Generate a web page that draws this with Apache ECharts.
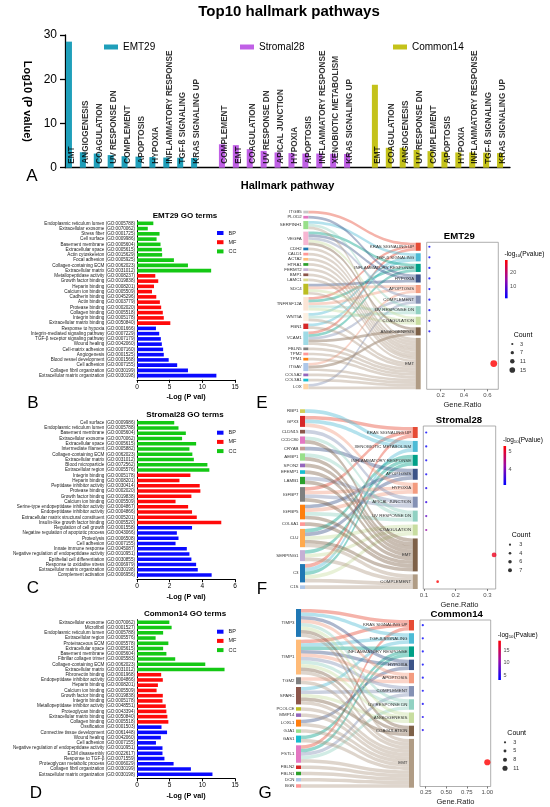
<!DOCTYPE html>
<html><head><meta charset="utf-8">
<script src="https://cdn.jsdelivr.net/npm/echarts@6/dist/echarts.min.js"></script>
<style>html,body{margin:0;padding:0;background:#fff}#c{width:550px;height:807px}</style>
</head><body><div id="c"></div>
<script>
const FONT = '"Liberation Sans", Arial, Helvetica, sans-serif';

// ---------- Panel A data ----------
const hallmarkEMT29 = ['EMT','ANGIOGENESIS','COAGULATION','UV RESPONSE DN','COMPLEMENT','APOPTOSIS','HYPOXIA','INFLAMMATORY RESPONSE','TGF-ß SIGNALING','KRAS SIGNALING UP'];
const hallmarkEMT29Val = [28.5,3.5,3.2,2.85,2.6,2.5,2.4,2.3,2.25,2.2];
const hallmarkStromal28 = ['COMPLEMENT','EMT','COAGULATION','UV RESPONSE DN','APICAL JUNCTION','HYPOXIA','APOPTOSIS','INFLAMMATORY RESPONSE','XENOBIOTIC METABOLISM','KRAS SIGNALING UP'];
const hallmarkStromal28Val = [5.3,5.1,4.2,3.8,3.45,3.3,3.2,3.2,3.15,3.1];
const hallmarkCommon14 = ['EMT','COAGULATION','ANGIOGENESIS','UV RESPONSE DN','COMPLEMENT','APOPTOSIS','HYPOXIA','INFLAMMATORY RESPONSE','TGF-ß SIGNALING','KRAS SIGNALING UP'];
const hallmarkCommon14Val = [18.75,4.5,4.5,4.0,3.75,3.6,3.45,3.45,3.4,3.3];
const setNames = ['EMT29','Stromal28','Common14'];

// ---------- GO data ----------
const goEMT29Terms = ['Endoplasmic reticulum lumen (GO:0005788)','Extracellular exosome (GO:0070062)','Stress fiber (GO:0001725)','Cell surface (GO:0009986)','Basement membrane (GO:0005604)','Extracellular space (GO:0005615)','Actin cytoskeleton (GO:0015629)','Focal adhesion (GO:0005925)','Collagen-containing ECM (GO:0062023)','Extracellular matrix (GO:0031012)',
 'Metallopeptidase activity (GO:0008237)','Growth factor binding (GO:0019838)','Heparin binding (GO:0008201)','Calcium ion binding (GO:0005509)','Cadherin binding (GO:0045296)','Actin binding (GO:0003779)','Protease binding (GO:0002020)','Collagen binding (GO:0005518)','Integrin binding (GO:0005178)','Extracellular matrix binding (GO:0050840)',
 'Response to hypoxia (GO:0001666)','Integrin-mediated signaling pathway (GO:0007229)','TGF-β receptor signaling pathway (GO:0007179)','Wound healing (GO:0042060)','Cell-matrix adhesion (GO:0007160)','Angiogenesis (GO:0001525)','Blood vessel development (GO:0001568)','Cell adhesion (GO:0007155)','Collagen fibril organization (GO:0030199)','Extracellular matrix organization (GO:0030198)'];
const goEMT29Vals = [2.5,1.65,3.45,3.0,3.6,3.8,3.85,5.65,7.8,11.35, 2.8,3.25,2.6,2.3,2.95,3.5,3.7,3.95,4.1,5.1, 2.9,3.4,3.65,3.8,4.0,4.1,4.85,6.15,7.8,12.15];
const goStromal28Terms = ['Cell surface (GO:0009986)','Endoplasmic reticulum lumen (GO:0005788)','Basement membrane (GO:0005604)','Extracellular exosome (GO:0070062)','Extracellular space (GO:0005615)','Intermediate filament (GO:0005882)','Collagen-containing ECM (GO:0062023)','Extracellular matrix (GO:0031012)','Blood microparticle (GO:0072562)','Extracellular region (GO:0005576)',
 'Integrin binding (GO:0005178)','Heparin binding (GO:0008201)','Peptidase inhibitor activity (GO:0030414)','Protease binding (GO:0002020)','Growth factor binding (GO:0019838)','Calcium ion binding (GO:0005509)','Serine-type endopeptidase inhibitor activity (GO:0004867)','Endopeptidase inhibitor activity (GO:0004866)','Extracellular matrix structural constituent (GO:0005201)','Insulin-like growth factor binding (GO:0005520)',
 'Regulation of cell growth (GO:0001558)','Negative regulation of apoptotic process (GO:0043066)','Proteolysis (GO:0006508)','Cell adhesion (GO:0007155)','Innate immune response (GO:0045087)','Negative regulation of endopeptidase activity (GO:0010951)','Epithelial cell differentiation (GO:0030855)','Response to oxidative stress (GO:0006979)','Extracellular matrix organization (GO:0030198)','Complement activation (GO:0006956)'];
const goStromal28Vals = [2.28,2.54,2.99,2.76,3.62,3.21,3.39,3.48,4.31,4.43, 3.27,2.6,3.84,3.88,3.33,2.36,3.13,3.37,3.66,5.16, 3.37,2.44,2.54,2.36,3.05,3.21,3.33,3.62,3.72,4.57];
const goCommon14Terms = ['Extracellular exosome (GO:0070062)','Microfibril (GO:0001527)','Endoplasmic reticulum lumen (GO:0005788)','Extracellular region (GO:0005576)','Proteinaceous ECM (GO:0005578)','Extracellular space (GO:0005615)','Basement membrane (GO:0005604)','Fibrillar collagen trimer (GO:0005583)','Collagen-containing ECM (GO:0062023)','Extracellular matrix (GO:0031012)',
 'Fibronectin binding (GO:0001968)','Endopeptidase inhibitor activity (GO:0004866)','Heparin binding (GO:0008201)','Calcium ion binding (GO:0005509)','Growth factor binding (GO:0019838)','Integrin binding (GO:0005178)','Metallopeptidase inhibitor activity (GO:0048551)','Proteoglycan binding (GO:0043394)','Extracellular matrix binding (GO:0050840)','Collagen binding (GO:0005518)',
 'Ossification (GO:0001503)','Connective tissue development (GO:0061448)','Wound healing (GO:0042060)','Cell adhesion (GO:0007155)','Negative regulation of endopeptidase activity (GO:0010951)','ECM disassembly (GO:0022617)','Response to TGF-β (GO:0071559)','Proteoglycan metabolic process (GO:0006029)','Collagen fibril organization (GO:0030199)','Extracellular matrix organization (GO:0030198)'];
const goCommon14Vals = [4.95,5.3,4.0,2.85,4.8,4.0,4.5,5.85,10.45,13.4, 3.7,3.95,3.2,3.0,3.95,3.9,4.4,4.5,4.65,4.8, 3.75,4.6,3.65,2.9,3.9,3.9,4.2,5.6,8.25,11.55];
const goClass = ['CC','CC','CC','CC','CC','CC','CC','CC','CC','CC','MF','MF','MF','MF','MF','MF','MF','MF','MF','MF','BP','BP','BP','BP','BP','BP','BP','BP','BP','BP'];
const goClasses = ['BP','MF','CC'];

// ---------- Sankey / dot data ----------
const emtGenes = ['ITGB5','PLOD2','SERPINH1','VEGFA','CDH2','CALD1','ACTA2','HTRA1','FERMT2','BMP1','LAMC1','SDC4','TNFRSF12A','WNT5A','FBN1','VCAM1','FBLN5','TPM2','TPM1','ITGAV','COL5A2','COL3A1','LOX'];
const emtPathways = ['KRAS SIGNALING UP','TGF-ß SIGNALING','INFLAMMATORY RESPONSE','HYPOXIA','APOPTOSIS','COMPLEMENT','UV RESPONSE DN','COAGULATION','ANGIOGENESIS','EMT'];
const emtMembers = [
 ['ITGB5','TNFRSF12A','VCAM1'],['SERPINH1','FBN1','WNT5A'],['VEGFA','TNFRSF12A','VCAM1'],['PLOD2','VEGFA','SDC4'],['TNFRSF12A','SDC4','ITGAV'],
 ['VEGFA','VCAM1','LOX'],['TNFRSF12A','WNT5A','SERPINH1'],['VEGFA','TNFRSF12A','SDC4'],['VEGFA','VCAM1','ITGAV'],
 ['SERPINH1','CDH2','CALD1','ACTA2','HTRA1','FERMT2','BMP1','LAMC1','SDC4','WNT5A','FBN1','VCAM1','FBLN5','TPM2','TPM1','ITGAV','COL5A2','COL3A1','LOX']];
const emtRatio = [0.103,0.103,0.103,0.103,0.103,0.103,0.103,0.103,0.103,0.655];
const emtCount = [3,3,3,3,3,3,3,3,3,19];
const emtLogP = [2.2,2.25,2.3,2.4,2.5,2.6,2.85,3.2,3.5,28.5];
const emtCountBreaks = [3,7,11,15];

const strGenes = ['RBP1','GPX3','CLDN15','CCDC80','CRYAB','AEBP1','SPON2','EFEMP1','LAMB1','IGFBP7','IGFBP5','COL6A1','CLU','SERPING1','C3','C1S'];
const strPathways = ['KRAS SIGNALING UP','XENOBIOTIC METABOLISM','INFLAMMATORY RESPONSE','APOPTOSIS','HYPOXIA','APICAL JUNCTION','UV RESPONSE DN','COAGULATION','EMT','COMPLEMENT'];
const strMembers = [
 ['C3','GPX3','IGFBP7'],['C3','RBP1','GPX3'],['C3','SERPING1','CLU'],['CLU','CRYAB','IGFBP5'],['GPX3','IGFBP7','IGFBP5'],
 ['CLDN15','LAMB1','IGFBP7'],['CCDC80','AEBP1','IGFBP5'],['C3','SERPING1','CLU'],
 ['CLU','CCDC80','AEBP1','SPON2','EFEMP1','LAMB1','IGFBP7','IGFBP5','COL6A1'],['C1S','C3','SERPING1','CLU']];
const strRatio = [0.107,0.107,0.107,0.107,0.107,0.107,0.107,0.107,0.321,0.143];
const strCount = [3,3,3,3,3,3,3,3,9,4];
const strLogP = [3.1,3.15,3.2,3.2,3.3,3.45,3.8,4.2,5.1,5.3];
const strCountBreaks = [3,4,6,7];

const comGenes = ['TIMP3','TIMP1','TGM2','SPARC','PCOLCE','MMP14','LOXL1','GJA1','GAS1','FSTL1','FBLN2','FBLN1','DCN','BGN'];
const comPathways = ['KRAS SIGNALING UP','TGF-ß SIGNALING','INFLAMMATORY RESPONSE','HYPOXIA','APOPTOSIS','COMPLEMENT','UV RESPONSE DN','ANGIOGENESIS','COAGULATION','EMT'];
const comMembers = [
 ['TIMP1','TIMP3','FSTL1'],['TIMP1','TIMP3','SPARC'],['TIMP1','FSTL1','GAS1'],['TIMP1','TIMP3','LOXL1'],['TIMP1','TIMP3','TGM2'],
 ['TIMP1','SPARC','FSTL1'],['TIMP1','TIMP3','FSTL1'],['TIMP1','TIMP3','SPARC'],['TIMP1','TIMP3','SPARC'],
 ['TIMP3','TIMP1','TGM2','SPARC','PCOLCE','MMP14','LOXL1','GJA1','GAS1','FSTL1','FBLN2','FBLN1','DCN','BGN']];
const comRatio = [0.214,0.214,0.214,0.214,0.214,0.214,0.214,0.214,0.214,1.0];
const comCount = [3,3,3,3,3,3,3,3,3,14];
const comLogP = [3.3,3.4,3.45,3.45,3.6,3.75,4.0,4.5,4.5,18.75];
const comCountBreaks = [3,5,8,11];

// ---------- styles ----------
const setColors = ['#1f9fba','#c060e6','#c4c21a'];
const goColors = {BP:'#0a0aff', MF:'#ff0a0a', CC:'#14c814'};
const pathPalette = ['#E64B35','#4DBBD5','#00A087','#3C5488','#F39B7F','#8491B4','#91D1C2','#C8DDA0','#7E6148','#B09C85'];
const emtGeneColors = ['#c7c7c7','#e377c2','#98df8a','#f7b6d2','#1f77b4','#ff9896','#ffbb78','#2ca02c','#c5b0d5','#8c564b','#dbdb8d','#bcbd22','#fbe5d6','#fdf0e2','#d62728','#9edae5','#7f7f7f','#ff9896','#ff7f0e','#aec7e8','#9467bd','#17becf','#ffd6a8'];
const strGeneColors = ['#cfcf5a','#d62728','#8c564b','#e377c2','#c49c94','#98df8a','#9467bd','#17becf','#2ca02c','#7f7f7f','#ff7f0e','#ff9896','#ffa94d','#c5b0d5','#1f77b4','#aec7e8'];
const comGeneColors = ['#1f77b4','#ffbb78','#7f7f7f','#8c564b','#bcbd22','#9467bd','#ff7f0e','#98df8a','#17becf','#e377c2','#d62728','#2ca02c','#aec7e8','#ff9896'];
const pColors = ['#0000ff','#9a0aa8','#ff0000'];

const grids = [], xAxes = [], yAxes = [], series = [], visualMaps = [], legends = [], gfx = [];

function txt(x, y, text, size, bold, align, extra) {
  gfx.push({type:'text', x, y, z: 50, silent: true, style: Object.assign({text, fontSize:size, fontWeight: bold?'bold':'normal', fontFamily: FONT, fill:'#000', align: align||'center', verticalAlign:'middle'}, extra||{})});
}

// ---------- Panel A ----------
const aCats = [], aBar = [[],[],[]], aLab = [];
[[hallmarkEMT29,hallmarkEMT29Val],[hallmarkStromal28,hallmarkStromal28Val],[hallmarkCommon14,hallmarkCommon14Val]].forEach(([names, vals], g) => {
  if (g > 0) aCats.push('');
  names.forEach((n, i) => { const idx = aCats.length; aCats.push(n); aBar[g].push([idx, vals[i]]); aLab.push({value:[idx, 0], name:n}); });
});
grids.push({left:65, top:35, width:445, height:132.7});
xAxes.push({gridIndex:0, type:'category', data:aCats, axisLine:{lineStyle:{color:'#000', width:1.3}}, axisTick:{alignWithLabel:true, interval:0, length:5, lineStyle:{color:'#000', width:1.3}}, axisLabel:{show:false}, name:'Hallmark pathway', nameLocation:'middle', nameGap:13, nameTextStyle:{fontSize:11, fontWeight:'bold', color:'#000', fontFamily:FONT}});
yAxes.push({gridIndex:0, type:'value', min:0, max:30, interval:10, axisLine:{show:true, lineStyle:{color:'#000', width:1.3}}, axisTick:{show:true, length:5, lineStyle:{color:'#000', width:1.3}}, axisLabel:{fontSize:12, color:'#000', margin:8}, splitLine:{show:false}, name:'Log10 (P value)', nameLocation:'middle', nameRotate:-90, nameGap:23, nameTextStyle:{fontSize:11, fontWeight:'bold', color:'#000', fontFamily:FONT}});
setNames.forEach((s, g) => series.push({type:'bar', name:s, xAxisIndex:0, yAxisIndex:0, stack:'A', barWidth:6, barGap:'0%', data:aBar[g], itemStyle:{color:setColors[g]}}));
series.push({type:'bar', name:'_pad', xAxisIndex:0, yAxisIndex:0, stack:'Apad', barWidth:6, barGap:'0%', data:[]});
series.push({type:'scatter', name:'_alab', xAxisIndex:0, yAxisIndex:0, symbolSize:0.01, data:aLab, silent:true,
  label:{show:true, position:'top', distance:4, rotate:90, align:'left', verticalAlign:'middle', formatter:p=>p.name, fontSize:8.2, fontWeight:'bold', fontFamily:FONT, color:'#000'}});
[[99,'EMT29'],[235,'Stromal28'],[388,'Common14']].forEach(([x, n]) => legends.push({left:x, top:37, data:[n], itemWidth:14, itemHeight:5, icon:'rect', selectedMode:false, textStyle:{fontSize:10, color:'#000', fontFamily:FONT}}));
txt(289, 12, 'Top10 hallmark pathways', 15, true);
txt(32, 176, 'A', 17, false);

// ---------- GO panels ----------
function goPanel(terms, vals, xmax, xint, lay, title, letter) {
  const gi = grids.length;
  grids.push({left:137, width:98, top:lay.top, height:lay.h});
  xAxes.push({gridIndex:gi, type:'value', min:0, max:xmax, interval:xint, offset:1.5, axisLine:{show:true, lineStyle:{color:'#000', width:1}}, axisTick:{show:true, length:3, lineStyle:{color:'#000'}}, axisLabel:{fontSize:6.5, color:'#000', margin:3.5}, splitLine:{show:false}, name:'-Log (P val)', nameLocation:'middle', nameGap:14, nameTextStyle:{fontSize:7.2, fontWeight:'bold', color:'#000', fontFamily:FONT}});
  yAxes.push({gridIndex:gi, type:'category', inverse:true, data:terms, axisLine:{lineStyle:{color:'#000', width:1}}, axisTick:{show:false}, axisLabel:{interval:0, fontSize:4.6, color:'#222', margin:2}});
  goClasses.forEach(c => series.push({type:'bar', name:c, xAxisIndex:gi, yAxisIndex:gi, stack:'go'+gi, barWidth:3.6, data: vals.map((v, i) => goClass[i] === c ? v : '-'), itemStyle:{color:goColors[c]}}));
  legends.push({left:212, top:lay.legTop, orient:'vertical', data:goClasses, itemWidth:6.5, itemHeight:4, itemGap:3.2, icon:'rect', selectedMode:false, textStyle:{fontSize:5.5, color:'#222', fontFamily:FONT}});
  txt(185, lay.titleY, title, 8, true);
  txt(lay.letterX, lay.letterY, letter, 17, false);
}
goPanel(goEMT29Terms, goEMT29Vals, 15, 5, {top:220.7, h:157.6, legTop:225, titleY:215.5, letterX:33, letterY:403}, 'EMT29 GO terms', 'B');
goPanel(goStromal28Terms, goStromal28Vals, 6, 2, {top:420.1, h:157.6, legTop:424.7, titleY:415, letterX:33, letterY:588}, 'Stromal28 GO terms', 'C');
goPanel(goCommon14Terms, goCommon14Vals, 15, 5, {top:619.7, h:157.2, legTop:623.7, titleY:614, letterX:36, letterY:793}, 'Common14 GO terms', 'D');

// ---------- Sankey + dot panels ----------
function sizeFn(cmin, cmax, dmin, dmax) { return c => dmin + (dmax - dmin) * (c - cmin) / (cmax - cmin); }

function enrichPanel(genes, geneColors, pathways, members, ratio, count, logp, breaks, L) {
  const links = [];
  pathways.forEach((p, j) => members[j].forEach(g => links.push({source:g, target:p, value:1})));
  const total = links.length, H = L.sk.h, gap = L.sk.gap;
  const ky = Math.min((H - (genes.length - 1) * gap) / total, (H - (pathways.length - 1) * gap) / total);
  const rightH = total * ky + (pathways.length - 1) * gap;
  let y = H - rightH;
  const nodes = genes.map((g, i) => ({name:g, itemStyle:{color:geneColors[i]}}));
  const centers = [];
  pathways.forEach((p, j) => {
    const dy = members[j].length * ky;
    nodes.push({name:p, localY: y / H, itemStyle:{color:pathPalette[j]}});
    centers.push(y + dy / 2);
    y += dy + gap;
  });
  series.push({type:'sankey', left:L.sk.x, top:L.sk.y, width:L.sk.w, height:H, nodeWidth:5, nodeGap:gap, layoutIterations:0, draggable:false, silent:true,
    emphasis:{disabled:true}, label:{position:'left', distance:1.5, fontSize:4.4, color:'#333', fontFamily:FONT},
    lineStyle:{color:'target', opacity:0.42, curveness:0.5}, itemStyle:{borderWidth:0}, data:nodes, links});

  // dot plot
  const cmin = Math.min(...count), cmax = Math.max(...count);
  const sz = sizeFn(cmin, cmax, 2.2, L.dmax);
  const gi = grids.length;
  grids.push({left:L.dot.x, top:L.dot.y, width:L.dot.w, height:L.dot.h, show:true, borderColor:'#9a9a9a', borderWidth:0.8, backgroundColor:'#fff'});
  xAxes.push({gridIndex:gi, type:'value', min:L.xmin, max:L.xmax, axisLine:{show:false}, splitLine:{show:false},
    axisTick:{show:true, length:2, customValues:L.xticks, lineStyle:{color:'#555', width:0.8}},
    axisLabel:{customValues:L.xticks, fontSize:6, color:'#4d4d4d', margin:3, formatter:v=>v.toFixed(L.dec)},
    name:'Gene.Ratio', nameLocation:'middle', nameGap:11.5, nameTextStyle:{fontSize:7.5, color:'#222', fontFamily:FONT}});
  yAxes.push({gridIndex:gi, type:'value', inverse:true, min:L.dot.y - L.sk.y, max:L.dot.y + L.dot.h - L.sk.y, show:false});
  const si = series.length;
  series.push({type:'scatter', name:'_dot'+gi, xAxisIndex:gi, yAxisIndex:gi, silent:true,
    data: pathways.map((p, j) => [ratio[j], centers[j], count[j], logp[j]]), symbolSize: d => sz(d[2])});
  const pmin = Math.min(...logp), pmax = Math.max(...logp);
  visualMaps.push({type:'continuous', show:false, seriesIndex:si, dimension:3, min:pmin, max:pmax, inRange:{color:pColors}});
  txt(L.titleX, L.dot.y - 6, L.title, 9.6, true);

  // colour bar
  const ci = grids.length;
  grids.push({left:L.cb.x, top:L.cb.y, width:2.6, height:L.cb.h, show:true, borderWidth:0,
    backgroundColor:{type:'linear', x:0, y:0, x2:0, y2:1, colorStops:[{offset:0, color:pColors[2]},{offset:0.5, color:pColors[1]},{offset:1, color:pColors[0]}]}});
  xAxes.push({gridIndex:ci, type:'value', min:0, max:1, show:false});
  yAxes.push({gridIndex:ci, type:'value', min:pmin, max:pmax, position:'right', axisLine:{show:false}, axisTick:{show:false}, splitLine:{show:false},
    axisLabel:{customValues:L.cbTicks, fontSize:5.5, color:'#4d4d4d', margin:2.5}});
  txt(L.cb.x - 0.5, L.cb.y - 5.5, '-log{s|10}(Pvalue)', 6.5, false, 'left', {rich:{s:{fontSize:4.3, fontFamily:FONT, fill:'#000', padding:[3,0,0,0]}}});

  // count legend
  const li = grids.length;
  const step = L.cnt.step;
  grids.push({left:L.cnt.x - 1, top:L.cnt.y - step / 2, width:2, height:step * breaks.length});
  xAxes.push({gridIndex:li, type:'value', min:-1, max:1, show:false});
  yAxes.push({gridIndex:li, type:'category', inverse:true, data:breaks.map(String), position:'right', axisLine:{show:false}, axisTick:{show:false},
    axisLabel:{interval:0, fontSize:5.5, color:'#333', margin:L.cnt.margin}});
  series.push({type:'scatter', name:'_cnt'+li, xAxisIndex:li, yAxisIndex:li, silent:true, itemStyle:{color:'#000'},
    data: breaks.map((b, i) => [0, i, b]), symbolSize: d => sz(d[2])});
  txt(L.cnt.tx, L.cnt.ty, 'Count', 7, false);
  txt(L.letter[0], L.letter[1], L.letter[2], 17, false);
}

enrichPanel(emtGenes, emtGeneColors, emtPathways, emtMembers, emtRatio, emtCount, emtLogP, emtCountBreaks, {
  sk:{x:303.3, y:210.7, w:117.4, h:178.6, gap:2.46},
  dot:{x:426.7, y:242.3, w:71.6, h:147}, xmin:0.08, xmax:0.694, xticks:[0.2,0.4,0.6], dec:1, dmax:6.8,
  title:'EMT29', titleX:459.3,
  cb:{x:505, y:260, h:38.3}, cbTicks:[10,20],
  cnt:{x:512.3, y:344, step:8.67, margin:6.7, tx:523, ty:335}, letter:[262, 403, 'E']});
enrichPanel(strGenes, strGeneColors, strPathways, strMembers, strRatio, strCount, strLogP, strCountBreaks, {
  sk:{x:300, y:409.3, w:117.7, h:179.7, gap:2.95},
  dot:{x:423.3, y:426, w:72.4, h:163}, xmin:0.0978, xmax:0.326, xticks:[0.1,0.2,0.3], dec:1, dmax:4.8,
  title:'Stromal28', titleX:459,
  cb:{x:503.5, y:446, h:39}, cbTicks:[4,5],
  cnt:{x:510, y:544.7, step:8.53, margin:8.3, tx:521, ty:535}, letter:[262, 589, 'F']});
enrichPanel(comGenes, comGeneColors, comPathways, comMembers, comRatio, comCount, comLogP, comCountBreaks, {
  sk:{x:296, y:609, w:118, h:178.7, gap:2.75},
  dot:{x:420, y:620, w:70.7, h:167.7}, xmin:0.18, xmax:1.041, xticks:[0.25,0.5,0.75,1.0], dec:2, dmax:6.2,
  title:'Common14', titleX:456.7,
  cb:{x:498.3, y:640.7, h:39.3}, cbTicks:[5,10,15],
  cnt:{x:505, y:742.3, step:8.67, margin:7.3, tx:516.7, ty:733.3}, letter:[265, 793, 'G']});

const chart = echarts.init(document.getElementById('c'), null, {renderer:'canvas', width:550, height:807});
chart.setOption({
  animation:false, backgroundColor:'#fff', textStyle:{fontFamily:FONT},
  grid:grids, xAxis:xAxes, yAxis:yAxes, series, visualMap:visualMaps, legend:legends, graphic:{elements:gfx}
});
</script></body></html>
